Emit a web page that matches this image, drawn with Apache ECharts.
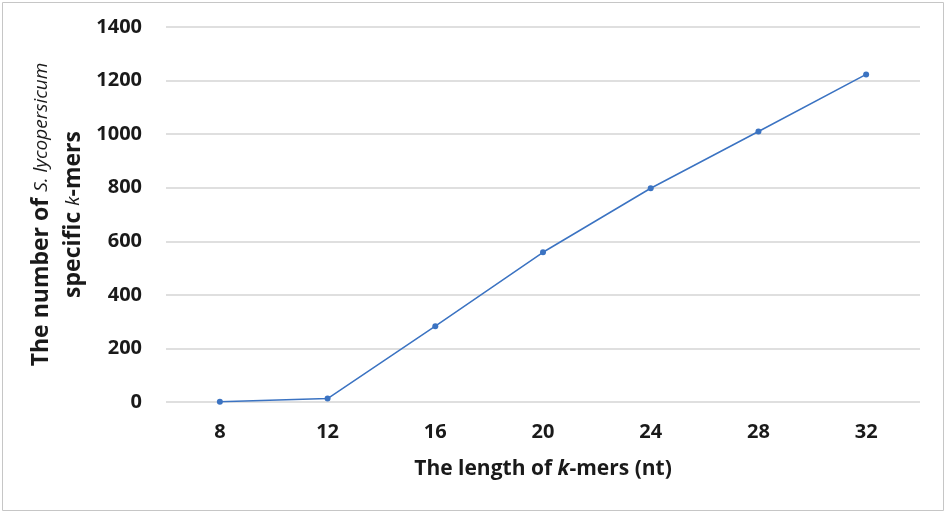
<!DOCTYPE html>
<html>
<head>
<meta charset="utf-8">
<script src="https://cdn.jsdelivr.net/npm/echarts@6/dist/echarts.min.js"></script>
<style>
html,body{margin:0;padding:0;background:#fff;}
#c{width:946px;height:515px;}
</style>
</head>
<body>
<div id="c"></div>
<script>
const categories = ['8', '12', '16', '20', '24', '28', '32'];
const kmerCounts = [1, 13, 283, 559, 798, 1010, 1223];
const yTicks = { min: 0, max: 1400, interval: 200 };

const chart = echarts.init(document.getElementById('c'));
const font = '"Open Sans", sans-serif';
const lineColor = '#3b73c2';
const txt = '#1a1a1a';
chart.setOption({
  backgroundColor: '#fff',
  animation: false,
  graphic: [{
    type: 'rect',
    shape: { x: 2.5, y: 2.5, width: 941, height: 508 },
    style: { fill: 'none', stroke: '#c6c6c6', lineWidth: 1 }
  }],
  grid: { left: 166, right: 26, top: 27, bottom: 113 },
  xAxis: {
    type: 'category',
    data: categories,
    boundaryGap: true,
    axisLine: { show: false },
    axisTick: { show: false },
    axisLabel: { color: txt, fontFamily: font, fontWeight: 'bold', fontSize: 20, margin: 20 },
    name: '{b|The length of }{bi|k}{b|-mers (nt)}',
    nameLocation: 'middle',
    nameGap: 57,
    nameTextStyle: {
      rich: {
        b: { fontFamily: font, fontWeight: 'bold', fontSize: 21, color: txt },
        bi: { fontFamily: font, fontWeight: 'bold', fontStyle: 'italic', fontSize: 21, color: txt }
      }
    }
  },
  yAxis: {
    type: 'value',
    min: yTicks.min,
    max: yTicks.max,
    interval: yTicks.interval,
    axisLine: { show: false },
    axisTick: { show: false },
    splitLine: { lineStyle: { color: '#d4d4d4', width: 1.5 } },
    axisLabel: {
      color: txt, fontFamily: font, fontWeight: 'bold', fontSize: 20, margin: 24,
      formatter: function (v) { return String(v); }
    },
    name: '{b|The number of }{bi|S. lycopersicum}\n{b|specific }{bi|k}{b|-mers}',
    nameLocation: 'middle',
    nameGap: 75,
    nameTextStyle: {
      align: 'center',
      rich: {
        b: { fontFamily: font, fontWeight: 'bold', fontSize: 23, color: txt, lineHeight: 32 },
        bi: { fontFamily: font, fontWeight: 'normal', fontStyle: 'italic', fontSize: 19, color: txt, lineHeight: 32 }
      }
    }
  },
  series: [{
    type: 'line',
    data: kmerCounts,
    symbol: 'circle',
    symbolSize: 6,
    showSymbol: true,
    lineStyle: { color: lineColor, width: 1.5 },
    itemStyle: { color: lineColor }
  }]
});
</script>
</body>
</html>
